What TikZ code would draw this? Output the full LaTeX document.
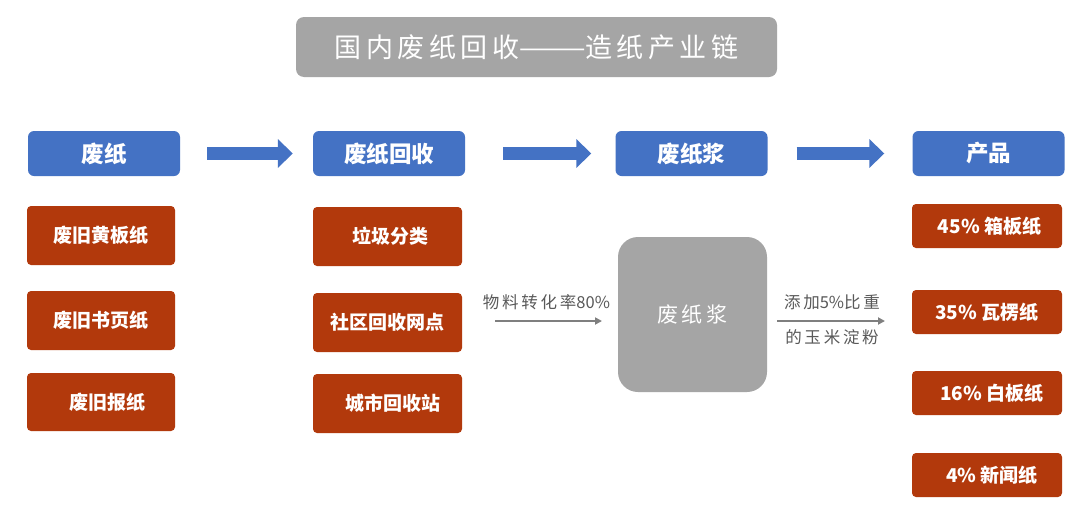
\documentclass[tikz,border=0pt]{standalone}
\usepackage{fontspec}
\newfontfamily\cjk{Noto Sans CJK SC}
\usetikzlibrary{arrows.meta}
\definecolor{bluebox}{HTML}{4472C4}
\definecolor{redbox}{HTML}{B2390C}
\definecolor{graybox}{HTML}{A5A5A5}
\definecolor{grayline}{HTML}{7F7F7F}
\definecolor{graytext}{HTML}{595959}
\begin{document}
\begin{tikzpicture}[x=1pt,y=-1pt,
  head/.style={fill=bluebox,rounded corners=6pt,inner sep=0pt,minimum width=152pt,minimum height=45pt,text=white,font=\cjk\bfseries\fontsize{22.5}{26}\selectfont},
  item/.style={fill=redbox,rounded corners=4pt,inner sep=0pt,minimum width=148pt,minimum height=59pt,text=white,font=\cjk\bfseries\fontsize{19}{22}\selectfont},
  prod/.style={fill=redbox,rounded corners=4pt,inner sep=0pt,minimum width=150pt,minimum height=44pt,text=white,font=\cjk\bfseries\fontsize{19}{22}\selectfont},
  bigarrow/.style={draw=bluebox,line width=13pt,-{Triangle[width=28pt,length=15pt]}},
  thinarrow/.style={draw=grayline,line width=2pt,-{Triangle[width=7pt,length=7pt]}},
  note/.style={text=graytext,font=\cjk\fontsize{16.5}{19}\selectfont,inner sep=0pt}
]
\useasboundingbox (0,0) rectangle (1080,509);
\fill[white] (0,0) rectangle (1080,509);
% title
\node[fill=graybox,rounded corners=8pt,minimum width=481pt,minimum height=60pt,inner sep=0pt,text=white,font=\cjk\fontsize{27}{30}\selectfont] (title) at (536.5,47) {国\,内\,废\,纸\,回\,收———造\,纸\,产\,业\,链};
% headers
\node[head] (h1) at (104,153.5) {废纸};
\node[head] (h2) at (389,153.5) {废纸回收};
\node[head] (h3) at (691.5,153.5) {废纸浆};
\node[head] (h4) at (988.5,153.5) {产品};
% big arrows
\draw[bigarrow] ([xshift=27pt]h1.east) -- ([xshift=-20pt]h2.west);
\draw[bigarrow] ([xshift=38pt]h2.east) -- ([xshift=-24pt]h3.west);
\draw[bigarrow] ([xshift=29pt]h3.east) -- ([xshift=-28pt]h4.west);
% left column
\node[item] (l1) at (101,235.5) {废旧黄板纸};
\node[item] (l2) at (101,320.5) {废旧书页纸};
\node[item,minimum height=58pt] (l3) at (101,402) {\hspace*{12pt}废旧报纸};
% middle column
\node[item,minimum width=149pt] (m1) at (387.5,236.5) {\hspace*{5pt}垃圾分类};
\node[item,minimum width=149pt] (m2) at (387.5,322.5) {社区回收网点};
\node[item,minimum width=149pt] (m3) at (387.5,403.5) {\hspace*{10pt}城市回收站};
% pulp box
\node[fill=graybox,rounded corners=20pt,minimum width=149pt,minimum height=155pt,inner sep=0pt,text=white,font=\cjk\fontsize{21}{24}\selectfont] (g) at (692.5,314.5) {废\,纸\,浆};
% products
\node[prod] (p1) at (987,226) {\hspace*{5pt}45\% 箱板纸};
\node[prod] (p2) at (987,312) {35\% 瓦楞纸};
\node[prod] (p3) at (987,393) {\hspace*{10pt}16\% 白板纸};
\node[prod] (p4) at (987,475) {\hspace*{10pt}4\% 新闻纸};
% thin arrows
\coordinate (a1s) at (495,321);
\coordinate (a1e) at (602,321);
\coordinate (a2s) at (777,321);
\coordinate (a2e) at (885,321);
\draw[thinarrow] (a1s) -- (a1e);
\draw[thinarrow] (a2s) -- (a2e);
\node[note] (t1) at (546.5,302) {物\,料\,转\,化\,率80\%};
\node[note] (t2) at (832,302) {添\,加5\%比\,重};
\node[note] (t3) at (832,337) {的\,玉\,米\,淀\,粉};
\end{tikzpicture}
\end{document}
